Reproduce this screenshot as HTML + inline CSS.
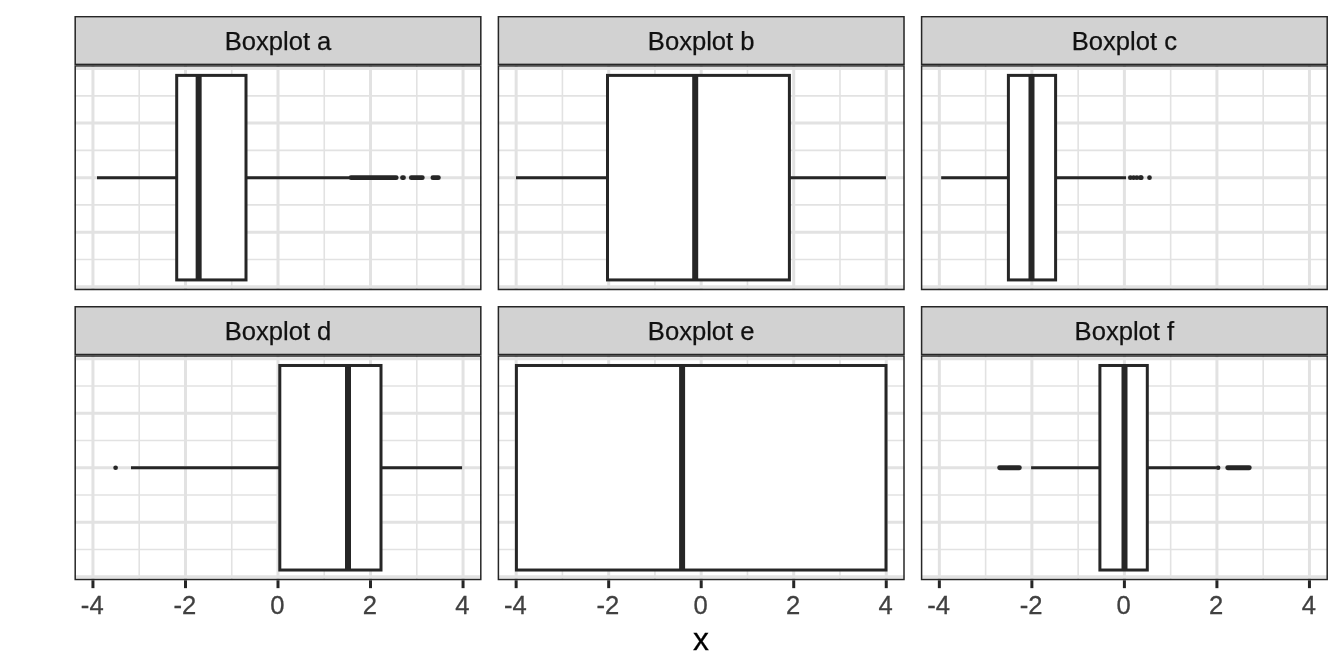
<!DOCTYPE html>
<html><head><meta charset="utf-8"><style>
html,body{margin:0;padding:0;background:#FFFFFF;width:1344px;height:672px;overflow:hidden;}
svg{display:block;will-change:transform;font-family:"Liberation Sans", sans-serif;}
</style></head><body>
<svg width="1344" height="672" viewBox="0 0 1344 672">
<rect x="0" y="0" width="1344" height="672" fill="#FFFFFF"/>
<defs>
<clipPath id="p00"><rect x="74.45" y="65.15" width="407.10" height="225.00"/></clipPath>
<clipPath id="s00"><rect x="74.45" y="15.90" width="407.10" height="49.25"/></clipPath>
<clipPath id="p01"><rect x="74.45" y="355.25" width="407.10" height="225.00"/></clipPath>
<clipPath id="s01"><rect x="74.45" y="306.00" width="407.10" height="49.25"/></clipPath>
<clipPath id="p10"><rect x="497.65" y="65.15" width="407.10" height="225.00"/></clipPath>
<clipPath id="s10"><rect x="497.65" y="15.90" width="407.10" height="49.25"/></clipPath>
<clipPath id="p11"><rect x="497.65" y="355.25" width="407.10" height="225.00"/></clipPath>
<clipPath id="s11"><rect x="497.65" y="306.00" width="407.10" height="49.25"/></clipPath>
<clipPath id="p20"><rect x="920.85" y="65.15" width="407.10" height="225.00"/></clipPath>
<clipPath id="s20"><rect x="920.85" y="15.90" width="407.10" height="49.25"/></clipPath>
<clipPath id="p21"><rect x="920.85" y="355.25" width="407.10" height="225.00"/></clipPath>
<clipPath id="s21"><rect x="920.85" y="306.00" width="407.10" height="49.25"/></clipPath>
</defs>
<g clip-path="url(#p00)">
<rect x="74.45" y="65.15" width="407.10" height="225.00" fill="#FFFFFF"/>
<line x1="139.22" y1="65.15" x2="139.22" y2="290.15" stroke="#E2E2E2" stroke-width="1.6"/>
<line x1="231.74" y1="65.15" x2="231.74" y2="290.15" stroke="#E2E2E2" stroke-width="1.6"/>
<line x1="324.26" y1="65.15" x2="324.26" y2="290.15" stroke="#E2E2E2" stroke-width="1.6"/>
<line x1="416.78" y1="65.15" x2="416.78" y2="290.15" stroke="#E2E2E2" stroke-width="1.6"/>
<line x1="74.45" y1="95.83" x2="481.55" y2="95.83" stroke="#E2E2E2" stroke-width="1.6"/>
<line x1="74.45" y1="150.38" x2="481.55" y2="150.38" stroke="#E2E2E2" stroke-width="1.6"/>
<line x1="74.45" y1="204.92" x2="481.55" y2="204.92" stroke="#E2E2E2" stroke-width="1.6"/>
<line x1="74.45" y1="259.47" x2="481.55" y2="259.47" stroke="#E2E2E2" stroke-width="1.6"/>
<line x1="92.95" y1="65.15" x2="92.95" y2="290.15" stroke="#E2E2E2" stroke-width="3.0"/>
<line x1="185.48" y1="65.15" x2="185.48" y2="290.15" stroke="#E2E2E2" stroke-width="3.0"/>
<line x1="278.00" y1="65.15" x2="278.00" y2="290.15" stroke="#E2E2E2" stroke-width="3.0"/>
<line x1="370.52" y1="65.15" x2="370.52" y2="290.15" stroke="#E2E2E2" stroke-width="3.0"/>
<line x1="463.05" y1="65.15" x2="463.05" y2="290.15" stroke="#E2E2E2" stroke-width="3.0"/>
<line x1="74.45" y1="68.56" x2="481.55" y2="68.56" stroke="#E2E2E2" stroke-width="3.0"/>
<line x1="74.45" y1="123.10" x2="481.55" y2="123.10" stroke="#E2E2E2" stroke-width="3.0"/>
<line x1="74.45" y1="177.65" x2="481.55" y2="177.65" stroke="#E2E2E2" stroke-width="3.0"/>
<line x1="74.45" y1="232.20" x2="481.55" y2="232.20" stroke="#E2E2E2" stroke-width="3.0"/>
<line x1="74.45" y1="286.74" x2="481.55" y2="286.74" stroke="#E2E2E2" stroke-width="3.0"/>
<line x1="97.00" y1="177.65" x2="176.70" y2="177.65" stroke="#262626" stroke-width="3.0"/>
<line x1="246.00" y1="177.65" x2="349.00" y2="177.65" stroke="#262626" stroke-width="3.0"/>
<rect x="176.70" y="75.38" width="69.30" height="204.55" fill="#FFFFFF" stroke="#262626" stroke-width="3.0" stroke-linejoin="miter"/>
<line x1="198.65" y1="75.38" x2="198.65" y2="279.92" stroke="#262626" stroke-width="6.0" stroke-linecap="butt"/>
<line x1="351.00" y1="177.65" x2="396.20" y2="177.65" stroke="#262626" stroke-width="4.8" stroke-linecap="round"/>
<line x1="402.50" y1="177.65" x2="403.50" y2="177.65" stroke="#262626" stroke-width="4.8" stroke-linecap="round"/>
<line x1="411.30" y1="177.65" x2="422.30" y2="177.65" stroke="#262626" stroke-width="4.8" stroke-linecap="round"/>
<line x1="432.90" y1="177.65" x2="438.40" y2="177.65" stroke="#262626" stroke-width="4.8" stroke-linecap="round"/>
<rect x="74.45" y="65.15" width="407.10" height="225.00" fill="none" stroke="#262626" stroke-width="3.0"/>
</g>
<g clip-path="url(#s00)"><rect x="74.45" y="15.90" width="407.10" height="49.25" fill="#D2D2D2" stroke="#262626" stroke-width="3.0"/></g>
<text x="278.00" y="49.70" font-size="25.6" fill="#111111" stroke="#111111" stroke-width="0.25" text-anchor="middle">Boxplot a</text>
<g clip-path="url(#p10)">
<rect x="497.65" y="65.15" width="407.10" height="225.00" fill="#FFFFFF"/>
<line x1="562.42" y1="65.15" x2="562.42" y2="290.15" stroke="#E2E2E2" stroke-width="1.6"/>
<line x1="654.94" y1="65.15" x2="654.94" y2="290.15" stroke="#E2E2E2" stroke-width="1.6"/>
<line x1="747.46" y1="65.15" x2="747.46" y2="290.15" stroke="#E2E2E2" stroke-width="1.6"/>
<line x1="839.98" y1="65.15" x2="839.98" y2="290.15" stroke="#E2E2E2" stroke-width="1.6"/>
<line x1="497.65" y1="95.83" x2="904.75" y2="95.83" stroke="#E2E2E2" stroke-width="1.6"/>
<line x1="497.65" y1="150.38" x2="904.75" y2="150.38" stroke="#E2E2E2" stroke-width="1.6"/>
<line x1="497.65" y1="204.92" x2="904.75" y2="204.92" stroke="#E2E2E2" stroke-width="1.6"/>
<line x1="497.65" y1="259.47" x2="904.75" y2="259.47" stroke="#E2E2E2" stroke-width="1.6"/>
<line x1="516.15" y1="65.15" x2="516.15" y2="290.15" stroke="#E2E2E2" stroke-width="3.0"/>
<line x1="608.68" y1="65.15" x2="608.68" y2="290.15" stroke="#E2E2E2" stroke-width="3.0"/>
<line x1="701.20" y1="65.15" x2="701.20" y2="290.15" stroke="#E2E2E2" stroke-width="3.0"/>
<line x1="793.72" y1="65.15" x2="793.72" y2="290.15" stroke="#E2E2E2" stroke-width="3.0"/>
<line x1="886.25" y1="65.15" x2="886.25" y2="290.15" stroke="#E2E2E2" stroke-width="3.0"/>
<line x1="497.65" y1="68.56" x2="904.75" y2="68.56" stroke="#E2E2E2" stroke-width="3.0"/>
<line x1="497.65" y1="123.10" x2="904.75" y2="123.10" stroke="#E2E2E2" stroke-width="3.0"/>
<line x1="497.65" y1="177.65" x2="904.75" y2="177.65" stroke="#E2E2E2" stroke-width="3.0"/>
<line x1="497.65" y1="232.20" x2="904.75" y2="232.20" stroke="#E2E2E2" stroke-width="3.0"/>
<line x1="497.65" y1="286.74" x2="904.75" y2="286.74" stroke="#E2E2E2" stroke-width="3.0"/>
<line x1="516.00" y1="177.65" x2="607.50" y2="177.65" stroke="#262626" stroke-width="3.0"/>
<line x1="789.40" y1="177.65" x2="886.00" y2="177.65" stroke="#262626" stroke-width="3.0"/>
<rect x="607.50" y="75.38" width="181.90" height="204.55" fill="#FFFFFF" stroke="#262626" stroke-width="3.0" stroke-linejoin="miter"/>
<line x1="695.20" y1="75.38" x2="695.20" y2="279.92" stroke="#262626" stroke-width="6.0" stroke-linecap="butt"/>
<rect x="497.65" y="65.15" width="407.10" height="225.00" fill="none" stroke="#262626" stroke-width="3.0"/>
</g>
<g clip-path="url(#s10)"><rect x="497.65" y="15.90" width="407.10" height="49.25" fill="#D2D2D2" stroke="#262626" stroke-width="3.0"/></g>
<text x="701.20" y="49.70" font-size="25.6" fill="#111111" stroke="#111111" stroke-width="0.25" text-anchor="middle">Boxplot b</text>
<g clip-path="url(#p20)">
<rect x="920.85" y="65.15" width="407.10" height="225.00" fill="#FFFFFF"/>
<line x1="985.62" y1="65.15" x2="985.62" y2="290.15" stroke="#E2E2E2" stroke-width="1.6"/>
<line x1="1078.14" y1="65.15" x2="1078.14" y2="290.15" stroke="#E2E2E2" stroke-width="1.6"/>
<line x1="1170.66" y1="65.15" x2="1170.66" y2="290.15" stroke="#E2E2E2" stroke-width="1.6"/>
<line x1="1263.18" y1="65.15" x2="1263.18" y2="290.15" stroke="#E2E2E2" stroke-width="1.6"/>
<line x1="920.85" y1="95.83" x2="1327.95" y2="95.83" stroke="#E2E2E2" stroke-width="1.6"/>
<line x1="920.85" y1="150.38" x2="1327.95" y2="150.38" stroke="#E2E2E2" stroke-width="1.6"/>
<line x1="920.85" y1="204.92" x2="1327.95" y2="204.92" stroke="#E2E2E2" stroke-width="1.6"/>
<line x1="920.85" y1="259.47" x2="1327.95" y2="259.47" stroke="#E2E2E2" stroke-width="1.6"/>
<line x1="939.35" y1="65.15" x2="939.35" y2="290.15" stroke="#E2E2E2" stroke-width="3.0"/>
<line x1="1031.88" y1="65.15" x2="1031.88" y2="290.15" stroke="#E2E2E2" stroke-width="3.0"/>
<line x1="1124.40" y1="65.15" x2="1124.40" y2="290.15" stroke="#E2E2E2" stroke-width="3.0"/>
<line x1="1216.92" y1="65.15" x2="1216.92" y2="290.15" stroke="#E2E2E2" stroke-width="3.0"/>
<line x1="1309.45" y1="65.15" x2="1309.45" y2="290.15" stroke="#E2E2E2" stroke-width="3.0"/>
<line x1="920.85" y1="68.56" x2="1327.95" y2="68.56" stroke="#E2E2E2" stroke-width="3.0"/>
<line x1="920.85" y1="123.10" x2="1327.95" y2="123.10" stroke="#E2E2E2" stroke-width="3.0"/>
<line x1="920.85" y1="177.65" x2="1327.95" y2="177.65" stroke="#E2E2E2" stroke-width="3.0"/>
<line x1="920.85" y1="232.20" x2="1327.95" y2="232.20" stroke="#E2E2E2" stroke-width="3.0"/>
<line x1="920.85" y1="286.74" x2="1327.95" y2="286.74" stroke="#E2E2E2" stroke-width="3.0"/>
<line x1="941.20" y1="177.65" x2="1008.40" y2="177.65" stroke="#262626" stroke-width="3.0"/>
<line x1="1055.60" y1="177.65" x2="1126.00" y2="177.65" stroke="#262626" stroke-width="3.0"/>
<rect x="1008.40" y="75.38" width="47.20" height="204.55" fill="#FFFFFF" stroke="#262626" stroke-width="3.0" stroke-linejoin="miter"/>
<line x1="1031.50" y1="75.38" x2="1031.50" y2="279.92" stroke="#262626" stroke-width="6.0" stroke-linecap="butt"/>
<circle cx="1130.30" cy="177.65" r="2.35" fill="#262626"/>
<circle cx="1133.60" cy="177.65" r="2.35" fill="#262626"/>
<circle cx="1136.90" cy="177.65" r="2.35" fill="#262626"/>
<circle cx="1140.40" cy="177.65" r="2.35" fill="#262626"/>
<circle cx="1141.30" cy="177.65" r="2.35" fill="#262626"/>
<circle cx="1149.50" cy="177.65" r="2.35" fill="#262626"/>
<rect x="920.85" y="65.15" width="407.10" height="225.00" fill="none" stroke="#262626" stroke-width="3.0"/>
</g>
<g clip-path="url(#s20)"><rect x="920.85" y="15.90" width="407.10" height="49.25" fill="#D2D2D2" stroke="#262626" stroke-width="3.0"/></g>
<text x="1124.40" y="49.70" font-size="25.6" fill="#111111" stroke="#111111" stroke-width="0.25" text-anchor="middle">Boxplot c</text>
<g clip-path="url(#p01)">
<rect x="74.45" y="355.25" width="407.10" height="225.00" fill="#FFFFFF"/>
<line x1="139.22" y1="355.25" x2="139.22" y2="580.25" stroke="#E2E2E2" stroke-width="1.6"/>
<line x1="231.74" y1="355.25" x2="231.74" y2="580.25" stroke="#E2E2E2" stroke-width="1.6"/>
<line x1="324.26" y1="355.25" x2="324.26" y2="580.25" stroke="#E2E2E2" stroke-width="1.6"/>
<line x1="416.78" y1="355.25" x2="416.78" y2="580.25" stroke="#E2E2E2" stroke-width="1.6"/>
<line x1="74.45" y1="385.93" x2="481.55" y2="385.93" stroke="#E2E2E2" stroke-width="1.6"/>
<line x1="74.45" y1="440.48" x2="481.55" y2="440.48" stroke="#E2E2E2" stroke-width="1.6"/>
<line x1="74.45" y1="495.02" x2="481.55" y2="495.02" stroke="#E2E2E2" stroke-width="1.6"/>
<line x1="74.45" y1="549.57" x2="481.55" y2="549.57" stroke="#E2E2E2" stroke-width="1.6"/>
<line x1="92.95" y1="355.25" x2="92.95" y2="580.25" stroke="#E2E2E2" stroke-width="3.0"/>
<line x1="185.48" y1="355.25" x2="185.48" y2="580.25" stroke="#E2E2E2" stroke-width="3.0"/>
<line x1="278.00" y1="355.25" x2="278.00" y2="580.25" stroke="#E2E2E2" stroke-width="3.0"/>
<line x1="370.52" y1="355.25" x2="370.52" y2="580.25" stroke="#E2E2E2" stroke-width="3.0"/>
<line x1="463.05" y1="355.25" x2="463.05" y2="580.25" stroke="#E2E2E2" stroke-width="3.0"/>
<line x1="74.45" y1="358.66" x2="481.55" y2="358.66" stroke="#E2E2E2" stroke-width="3.0"/>
<line x1="74.45" y1="413.20" x2="481.55" y2="413.20" stroke="#E2E2E2" stroke-width="3.0"/>
<line x1="74.45" y1="467.75" x2="481.55" y2="467.75" stroke="#E2E2E2" stroke-width="3.0"/>
<line x1="74.45" y1="522.30" x2="481.55" y2="522.30" stroke="#E2E2E2" stroke-width="3.0"/>
<line x1="74.45" y1="576.84" x2="481.55" y2="576.84" stroke="#E2E2E2" stroke-width="3.0"/>
<line x1="131.00" y1="467.75" x2="279.80" y2="467.75" stroke="#262626" stroke-width="3.0"/>
<line x1="381.00" y1="467.75" x2="462.10" y2="467.75" stroke="#262626" stroke-width="3.0"/>
<rect x="279.80" y="365.48" width="101.20" height="204.55" fill="#FFFFFF" stroke="#262626" stroke-width="3.0" stroke-linejoin="miter"/>
<line x1="348.00" y1="365.48" x2="348.00" y2="570.02" stroke="#262626" stroke-width="6.0" stroke-linecap="butt"/>
<circle cx="115.60" cy="467.75" r="2.35" fill="#262626"/>
<rect x="74.45" y="355.25" width="407.10" height="225.00" fill="none" stroke="#262626" stroke-width="3.0"/>
</g>
<g clip-path="url(#s01)"><rect x="74.45" y="306.00" width="407.10" height="49.25" fill="#D2D2D2" stroke="#262626" stroke-width="3.0"/></g>
<text x="278.00" y="339.80" font-size="25.6" fill="#111111" stroke="#111111" stroke-width="0.25" text-anchor="middle">Boxplot d</text>
<line x1="92.95" y1="580.25" x2="92.95" y2="588.15" stroke="#262626" stroke-width="3.0"/>
<text x="92.25" y="613.6" font-size="25.6" fill="#404040" stroke="#404040" stroke-width="0.3" text-anchor="middle">-4</text>
<line x1="185.48" y1="580.25" x2="185.48" y2="588.15" stroke="#262626" stroke-width="3.0"/>
<text x="184.78" y="613.6" font-size="25.6" fill="#404040" stroke="#404040" stroke-width="0.3" text-anchor="middle">-2</text>
<line x1="278.00" y1="580.25" x2="278.00" y2="588.15" stroke="#262626" stroke-width="3.0"/>
<text x="277.30" y="613.6" font-size="25.6" fill="#404040" stroke="#404040" stroke-width="0.3" text-anchor="middle">0</text>
<line x1="370.52" y1="580.25" x2="370.52" y2="588.15" stroke="#262626" stroke-width="3.0"/>
<text x="369.82" y="613.6" font-size="25.6" fill="#404040" stroke="#404040" stroke-width="0.3" text-anchor="middle">2</text>
<line x1="463.05" y1="580.25" x2="463.05" y2="588.15" stroke="#262626" stroke-width="3.0"/>
<text x="462.35" y="613.6" font-size="25.6" fill="#404040" stroke="#404040" stroke-width="0.3" text-anchor="middle">4</text>
<g clip-path="url(#p11)">
<rect x="497.65" y="355.25" width="407.10" height="225.00" fill="#FFFFFF"/>
<line x1="562.42" y1="355.25" x2="562.42" y2="580.25" stroke="#E2E2E2" stroke-width="1.6"/>
<line x1="654.94" y1="355.25" x2="654.94" y2="580.25" stroke="#E2E2E2" stroke-width="1.6"/>
<line x1="747.46" y1="355.25" x2="747.46" y2="580.25" stroke="#E2E2E2" stroke-width="1.6"/>
<line x1="839.98" y1="355.25" x2="839.98" y2="580.25" stroke="#E2E2E2" stroke-width="1.6"/>
<line x1="497.65" y1="385.93" x2="904.75" y2="385.93" stroke="#E2E2E2" stroke-width="1.6"/>
<line x1="497.65" y1="440.48" x2="904.75" y2="440.48" stroke="#E2E2E2" stroke-width="1.6"/>
<line x1="497.65" y1="495.02" x2="904.75" y2="495.02" stroke="#E2E2E2" stroke-width="1.6"/>
<line x1="497.65" y1="549.57" x2="904.75" y2="549.57" stroke="#E2E2E2" stroke-width="1.6"/>
<line x1="516.15" y1="355.25" x2="516.15" y2="580.25" stroke="#E2E2E2" stroke-width="3.0"/>
<line x1="608.68" y1="355.25" x2="608.68" y2="580.25" stroke="#E2E2E2" stroke-width="3.0"/>
<line x1="701.20" y1="355.25" x2="701.20" y2="580.25" stroke="#E2E2E2" stroke-width="3.0"/>
<line x1="793.72" y1="355.25" x2="793.72" y2="580.25" stroke="#E2E2E2" stroke-width="3.0"/>
<line x1="886.25" y1="355.25" x2="886.25" y2="580.25" stroke="#E2E2E2" stroke-width="3.0"/>
<line x1="497.65" y1="358.66" x2="904.75" y2="358.66" stroke="#E2E2E2" stroke-width="3.0"/>
<line x1="497.65" y1="413.20" x2="904.75" y2="413.20" stroke="#E2E2E2" stroke-width="3.0"/>
<line x1="497.65" y1="467.75" x2="904.75" y2="467.75" stroke="#E2E2E2" stroke-width="3.0"/>
<line x1="497.65" y1="522.30" x2="904.75" y2="522.30" stroke="#E2E2E2" stroke-width="3.0"/>
<line x1="497.65" y1="576.84" x2="904.75" y2="576.84" stroke="#E2E2E2" stroke-width="3.0"/>
<rect x="516.40" y="365.48" width="369.60" height="204.55" fill="#FFFFFF" stroke="#262626" stroke-width="3.0" stroke-linejoin="miter"/>
<line x1="682.10" y1="365.48" x2="682.10" y2="570.02" stroke="#262626" stroke-width="6.0" stroke-linecap="butt"/>
<rect x="497.65" y="355.25" width="407.10" height="225.00" fill="none" stroke="#262626" stroke-width="3.0"/>
</g>
<g clip-path="url(#s11)"><rect x="497.65" y="306.00" width="407.10" height="49.25" fill="#D2D2D2" stroke="#262626" stroke-width="3.0"/></g>
<text x="701.20" y="339.80" font-size="25.6" fill="#111111" stroke="#111111" stroke-width="0.25" text-anchor="middle">Boxplot e</text>
<line x1="516.15" y1="580.25" x2="516.15" y2="588.15" stroke="#262626" stroke-width="3.0"/>
<text x="515.45" y="613.6" font-size="25.6" fill="#404040" stroke="#404040" stroke-width="0.3" text-anchor="middle">-4</text>
<line x1="608.68" y1="580.25" x2="608.68" y2="588.15" stroke="#262626" stroke-width="3.0"/>
<text x="607.98" y="613.6" font-size="25.6" fill="#404040" stroke="#404040" stroke-width="0.3" text-anchor="middle">-2</text>
<line x1="701.20" y1="580.25" x2="701.20" y2="588.15" stroke="#262626" stroke-width="3.0"/>
<text x="700.50" y="613.6" font-size="25.6" fill="#404040" stroke="#404040" stroke-width="0.3" text-anchor="middle">0</text>
<line x1="793.72" y1="580.25" x2="793.72" y2="588.15" stroke="#262626" stroke-width="3.0"/>
<text x="793.02" y="613.6" font-size="25.6" fill="#404040" stroke="#404040" stroke-width="0.3" text-anchor="middle">2</text>
<line x1="886.25" y1="580.25" x2="886.25" y2="588.15" stroke="#262626" stroke-width="3.0"/>
<text x="885.55" y="613.6" font-size="25.6" fill="#404040" stroke="#404040" stroke-width="0.3" text-anchor="middle">4</text>
<g clip-path="url(#p21)">
<rect x="920.85" y="355.25" width="407.10" height="225.00" fill="#FFFFFF"/>
<line x1="985.62" y1="355.25" x2="985.62" y2="580.25" stroke="#E2E2E2" stroke-width="1.6"/>
<line x1="1078.14" y1="355.25" x2="1078.14" y2="580.25" stroke="#E2E2E2" stroke-width="1.6"/>
<line x1="1170.66" y1="355.25" x2="1170.66" y2="580.25" stroke="#E2E2E2" stroke-width="1.6"/>
<line x1="1263.18" y1="355.25" x2="1263.18" y2="580.25" stroke="#E2E2E2" stroke-width="1.6"/>
<line x1="920.85" y1="385.93" x2="1327.95" y2="385.93" stroke="#E2E2E2" stroke-width="1.6"/>
<line x1="920.85" y1="440.48" x2="1327.95" y2="440.48" stroke="#E2E2E2" stroke-width="1.6"/>
<line x1="920.85" y1="495.02" x2="1327.95" y2="495.02" stroke="#E2E2E2" stroke-width="1.6"/>
<line x1="920.85" y1="549.57" x2="1327.95" y2="549.57" stroke="#E2E2E2" stroke-width="1.6"/>
<line x1="939.35" y1="355.25" x2="939.35" y2="580.25" stroke="#E2E2E2" stroke-width="3.0"/>
<line x1="1031.88" y1="355.25" x2="1031.88" y2="580.25" stroke="#E2E2E2" stroke-width="3.0"/>
<line x1="1124.40" y1="355.25" x2="1124.40" y2="580.25" stroke="#E2E2E2" stroke-width="3.0"/>
<line x1="1216.92" y1="355.25" x2="1216.92" y2="580.25" stroke="#E2E2E2" stroke-width="3.0"/>
<line x1="1309.45" y1="355.25" x2="1309.45" y2="580.25" stroke="#E2E2E2" stroke-width="3.0"/>
<line x1="920.85" y1="358.66" x2="1327.95" y2="358.66" stroke="#E2E2E2" stroke-width="3.0"/>
<line x1="920.85" y1="413.20" x2="1327.95" y2="413.20" stroke="#E2E2E2" stroke-width="3.0"/>
<line x1="920.85" y1="467.75" x2="1327.95" y2="467.75" stroke="#E2E2E2" stroke-width="3.0"/>
<line x1="920.85" y1="522.30" x2="1327.95" y2="522.30" stroke="#E2E2E2" stroke-width="3.0"/>
<line x1="920.85" y1="576.84" x2="1327.95" y2="576.84" stroke="#E2E2E2" stroke-width="3.0"/>
<line x1="1031.10" y1="467.75" x2="1099.90" y2="467.75" stroke="#262626" stroke-width="3.0"/>
<line x1="1147.30" y1="467.75" x2="1216.10" y2="467.75" stroke="#262626" stroke-width="3.0"/>
<rect x="1099.90" y="365.48" width="47.40" height="204.55" fill="#FFFFFF" stroke="#262626" stroke-width="3.0" stroke-linejoin="miter"/>
<line x1="1124.50" y1="365.48" x2="1124.50" y2="570.02" stroke="#262626" stroke-width="6.0" stroke-linecap="butt"/>
<line x1="999.60" y1="467.75" x2="1019.40" y2="467.75" stroke="#262626" stroke-width="4.8" stroke-linecap="round"/>
<circle cx="1218.10" cy="467.75" r="2.35" fill="#262626"/>
<line x1="1227.70" y1="467.75" x2="1249.30" y2="467.75" stroke="#262626" stroke-width="4.8" stroke-linecap="round"/>
<rect x="920.85" y="355.25" width="407.10" height="225.00" fill="none" stroke="#262626" stroke-width="3.0"/>
</g>
<g clip-path="url(#s21)"><rect x="920.85" y="306.00" width="407.10" height="49.25" fill="#D2D2D2" stroke="#262626" stroke-width="3.0"/></g>
<text x="1124.40" y="339.80" font-size="25.6" fill="#111111" stroke="#111111" stroke-width="0.25" text-anchor="middle">Boxplot f</text>
<line x1="939.35" y1="580.25" x2="939.35" y2="588.15" stroke="#262626" stroke-width="3.0"/>
<text x="938.65" y="613.6" font-size="25.6" fill="#404040" stroke="#404040" stroke-width="0.3" text-anchor="middle">-4</text>
<line x1="1031.88" y1="580.25" x2="1031.88" y2="588.15" stroke="#262626" stroke-width="3.0"/>
<text x="1031.18" y="613.6" font-size="25.6" fill="#404040" stroke="#404040" stroke-width="0.3" text-anchor="middle">-2</text>
<line x1="1124.40" y1="580.25" x2="1124.40" y2="588.15" stroke="#262626" stroke-width="3.0"/>
<text x="1123.70" y="613.6" font-size="25.6" fill="#404040" stroke="#404040" stroke-width="0.3" text-anchor="middle">0</text>
<line x1="1216.92" y1="580.25" x2="1216.92" y2="588.15" stroke="#262626" stroke-width="3.0"/>
<text x="1216.22" y="613.6" font-size="25.6" fill="#404040" stroke="#404040" stroke-width="0.3" text-anchor="middle">2</text>
<line x1="1309.45" y1="580.25" x2="1309.45" y2="588.15" stroke="#262626" stroke-width="3.0"/>
<text x="1308.75" y="613.6" font-size="25.6" fill="#404040" stroke="#404040" stroke-width="0.3" text-anchor="middle">4</text>
<text x="700.9" y="649.8" font-size="31.8" fill="#000000" stroke="#000000" stroke-width="0.3" text-anchor="middle">x</text>
</svg>
</body></html>
